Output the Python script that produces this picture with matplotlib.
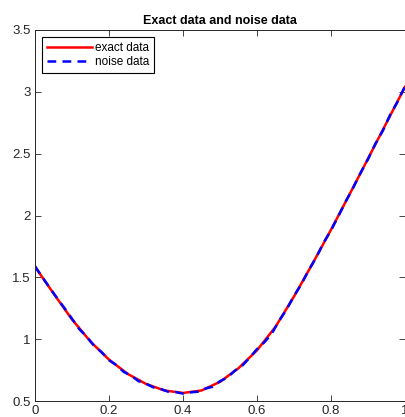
import numpy as np
import matplotlib
matplotlib.use('Agg')
import matplotlib.pyplot as plt

plt.rcParams['font.family'] = ['Liberation Sans', 'DejaVu Sans']

# exact curve
x_exact = [0.00, 0.05, 0.10, 0.15, 0.20, 0.25, 0.30, 0.35, 0.40, 0.45, 0.50,
           0.55, 0.60, 0.65, 0.70, 0.75, 0.80, 0.85, 0.90, 0.95, 1.00]
y_exact = [1.586, 1.37, 1.16, 0.98, 0.835, 0.72, 0.638, 0.585, 0.565, 0.585, 0.655,
           0.765, 0.91, 1.10, 1.345, 1.61, 1.885, 2.17, 2.46, 2.75, 3.04]

# noisy samples
x_noise = [i * 0.02 for i in range(51)]
y_noise = [1.59, 1.50, 1.415, 1.33, 1.25, 1.165, 1.08, 1.02, 0.945, 0.895,
           0.83, 0.79, 0.735, 0.705, 0.66, 0.64, 0.61, 0.597, 0.575, 0.572,
           0.56, 0.57, 0.575, 0.60, 0.615, 0.66, 0.69, 0.745, 0.785, 0.85,
           0.92, 0.975, 1.045, 1.15, 1.24, 1.35, 1.445, 1.56, 1.66, 1.78,
           1.88, 1.995, 2.115, 2.225, 2.345, 2.455, 2.58, 2.685, 2.815, 2.92,
           3.045]

fig = plt.figure(figsize=(4.06, 4.17), dpi=100)
ax = fig.add_axes([35 / 406, 16 / 417, 370 / 406, 371 / 417])

ax.plot(x_exact, y_exact, color='red', lw=1.8, label='exact data')
ax.plot(x_noise, y_noise, color='blue', lw=1.8, ls=(0, (3.5, 2.5)), label='noise data')

ax.set_xlim(0, 1)
ax.set_ylim(0.5, 3.5)
ax.set_xticks([0, 0.2, 0.4, 0.6, 0.8, 1])
ax.set_xticklabels(['0', '0.2', '0.4', '0.6', '0.8', '1'])
ax.set_yticks([0.5, 1, 1.5, 2, 2.5, 3, 3.5])
ax.set_yticklabels(['0.5', '1', '1.5', '2', '2.5', '3', '3.5'])
ax.tick_params(direction='in', length=4, width=0.6, labelsize=9.5,
               colors='#262626', top=True, right=True, pad=3)
for s in ax.spines.values():
    s.set_color('#262626')
    s.set_linewidth(0.7)

ax.set_title('Exact data and noise data', fontsize=9, fontweight='bold', pad=4)

leg = ax.legend(loc='upper left', fontsize=8.5, fancybox=False, framealpha=1,
                edgecolor='black', borderaxespad=0.6, handlelength=3.8,
                handletextpad=0.2, borderpad=0.45, labelspacing=0.15)
leg.get_frame().set_linewidth(0.8)

fig.savefig('out.png', dpi=100)
